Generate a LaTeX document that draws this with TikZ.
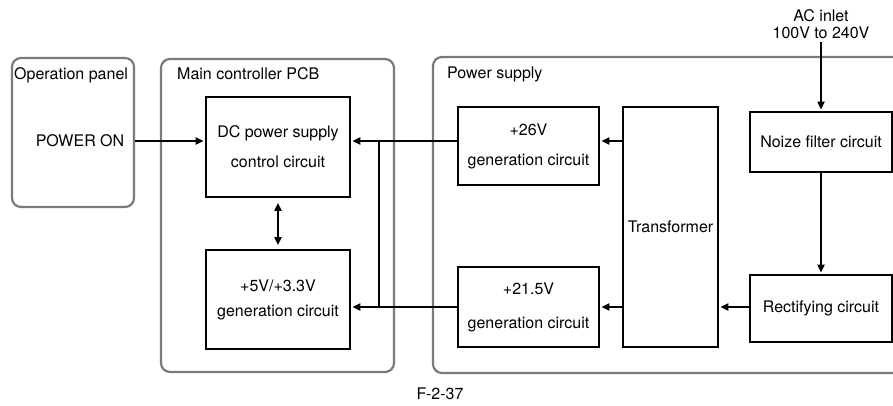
\documentclass[tikz,border=0pt]{standalone}
\usepackage{fontspec}
\setmainfont{TeX Gyre Heros}
\usetikzlibrary{arrows.meta,positioning}
\definecolor{panelgray}{HTML}{7A7A7A}

\begin{document}
\begin{tikzpicture}[
  x=1pt, y=-1pt,
  font=\fontsize{16}{19}\selectfont,
  >={Triangle[length=8pt,width=7pt]},
  blk/.style={draw, line width=1.8pt, align=center, inner sep=0pt},
  grp/.style={draw=panelgray, line width=2.2pt, rounded corners=9pt, inner sep=0pt},
  ttl/.style={anchor=base west, inner sep=0pt},
  wire/.style={line width=2.2pt},
  arr/.style={wire, ->, shorten >=1.5pt},
  dbl/.style={wire, <->, shorten <=5pt, shorten >=4pt}
]
\useasboundingbox (0,0) rectangle (893,406);
\clip (0,0) rectangle (893,406);
\node[grp, minimum width=122pt, minimum height=149pt] (oppanel) at (73,132.5) {};
\node[grp, minimum width=233pt, minimum height=313pt] (mainpcb) at (277.5,215.5) {};
\node[grp, minimum width=472pt, minimum height=316pt] (psu) at (669,215) {};
\node[ttl] (oplbl)  at (14,80)  {Operation panel};
\node[ttl] (pcblbl) at (177,80) {Main controller PCB};
\node[ttl] (psulbl) at (447,79) {Power supply};
\node (pwron) at (80,141) {POWER ON};
\node[blk, minimum width=144pt, minimum height=100pt] (dcctl) at (278,147)
  {DC power supply\\[11pt]control circuit};
\node[blk, minimum width=144pt, minimum height=99pt] (lowv) at (278,299.5)
  {+5V/+3.3V\\[6pt]generation circuit};
\node[blk, minimum width=141pt, minimum height=78pt] (gen26) at (528.5,146)
  {+26V\\[11pt]generation circuit};
\node[blk, minimum width=141pt, minimum height=80pt] (gen21) at (528.5,307)
  {+21.5V\\[15pt]generation circuit};
\node[blk, minimum width=95pt, minimum height=240pt] (trans) at (670.5,227) {Transformer};
\node[blk, minimum width=142pt, minimum height=60pt] (noise) at (821,142) {Noize filter circuit};
\node[blk, minimum width=142pt, minimum height=67pt] (rect) at (821,308.5) {Rectifying circuit};
\node[align=center, inner sep=3pt] (acin) at (821,24) {AC inlet\\[-2pt]100V to 240V};
\node (fig) at (440,394) {F-2-37};
\coordinate (bus) at (379,0);
\draw[arr] (oppanel.east |- pwron) -- (dcctl.west |- pwron);
\draw[dbl] (dcctl.south) -- (lowv.north);
\draw[arr] ([yshift=5pt]gen26.west) -- ([yshift=5pt]gen26.west -| dcctl.east);
\draw[arr] (gen21.west) -- (gen21.west -| lowv.east);
\draw[wire] ([yshift=5pt]gen26.west -| bus) -- (gen21.west -| bus);
\draw[arr] ([yshift=5pt]gen26.east -| trans.west) -- ([yshift=5pt]gen26.east);
\draw[arr] (gen21.east -| trans.west) -- (gen21.east);
\draw[arr] (rect.west |- gen21) -- (trans.east |- gen21);
\draw[arr] (noise.south) -- (rect.north);
\draw[arr] (acin.south) -- (noise.north);
\end{tikzpicture}
\end{document}
